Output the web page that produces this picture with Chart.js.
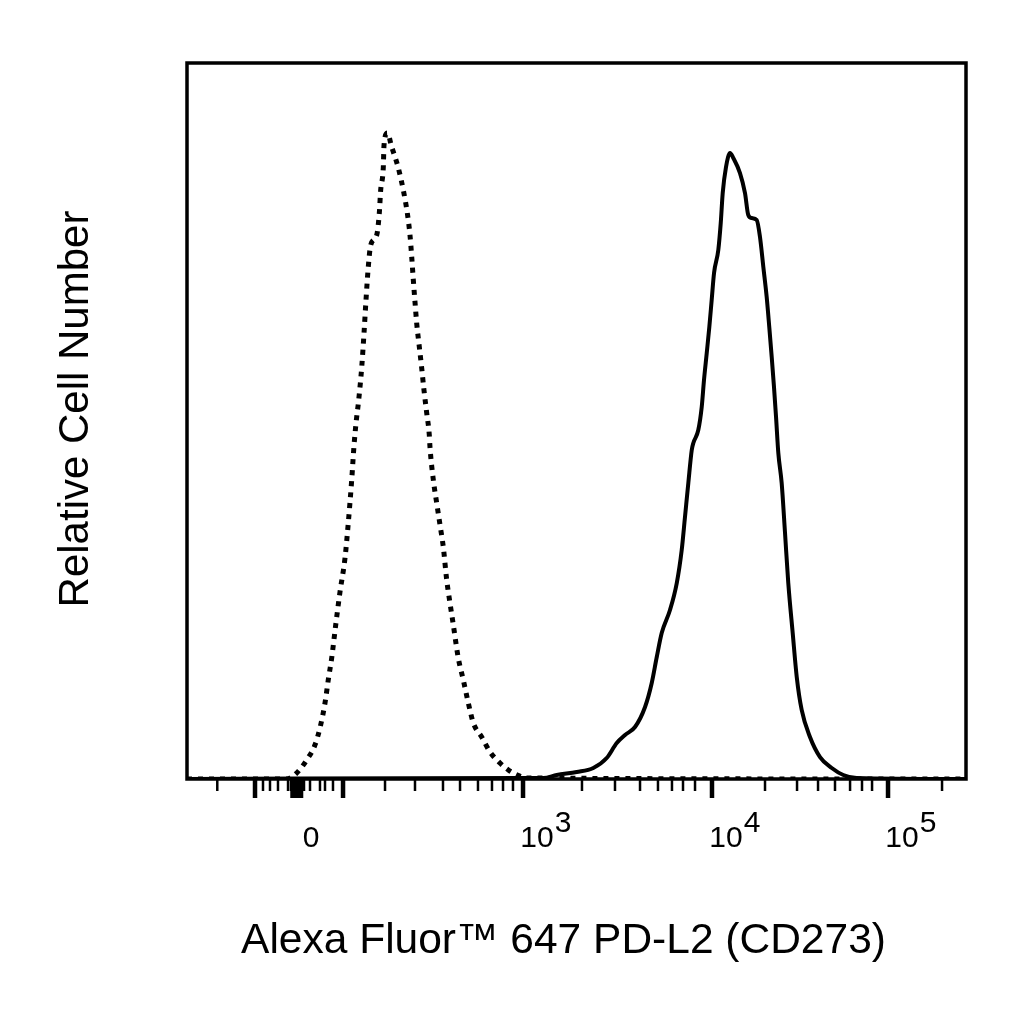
<!DOCTYPE html>
<html>
<head>
<meta charset="utf-8">
<script src="https://cdn.jsdelivr.net/npm/chart.js@4.4.1/dist/chart.umd.min.js"></script>
<style>
  html, body { margin: 0; padding: 0; background: #fff; }
  #wrap { width: 1024px; height: 1024px; }
</style>
</head>
<body>
<div id="wrap"><canvas id="histo" width="1024" height="1024"></canvas></div>
<script>
// x = display channel (0..1024 across the biexponential axis), y = % of max count

// isotype control (dotted)
const isoChannel = [0, 131.1, 144.2, 157.3, 168.2, 175.7, 181.4, 185.7, 190.2, 195.8, 201.1, 207.7, 212.0, 216.5,
  219.5, 222.2, 225.7, 229.7, 232.7, 235.3, 238.3, 241.5, 249.4, 252.8, 254.6, 258.0, 259.0, 263.3, 269.1,
  277.8, 284.3, 289.6, 293.1, 295.4, 297.5, 299.7, 301.9, 305.4, 308.5, 311.5, 315.1, 318.5, 319.4, 323.8,
  328.2, 332.6, 336.9, 341.4, 345.7, 350.1, 356.6, 363.2, 369.8, 376.4, 387.4, 398.4, 411.4, 422.4, 434.2,
  446.5, 1024];
const isoCount = [0, 0, 0.84, 2.65, 4.75, 7.54, 10.61, 13.83, 16.90, 21.79, 26.12, 30.86, 35.75, 41.76,
  46.51, 49.72, 52.93, 57.54, 62.29, 66.90, 71.51, 74.58, 75.98, 79.05, 82.26, 85.33, 88.54, 90.22, 88.27,
  85.33, 82.26, 79.05, 75.98, 72.90, 69.69, 66.62, 63.69, 60.33, 57.40, 54.33, 51.12, 48.04, 46.37, 41.76,
  38.55, 35.47, 32.40, 27.79, 24.58, 21.51, 16.90, 13.83, 10.61, 7.82, 5.87, 3.77, 2.23, 1.26, 0.56,
  0.14, 0];

// anti-PD-L2 stained (solid)
const pdl2Channel = [0, 441.7, 468.4, 486.0, 512.3, 534.1, 551.7, 564.9, 575.8, 588.9, 602.1, 610.9, 617.5,
  624.0, 634.9, 643.8, 650.3, 654.6, 659.0, 663.5, 665.6, 672.1, 676.6, 679.6, 683.2, 686.6, 689.7, 692.8,
  698.4, 701.6, 704.2, 708.5, 713.8, 718.1, 726.9, 733.5, 737.8, 742.3, 748.9, 753.2, 757.6, 762.0, 765.4,
  768.6, 771.6, 774.3, 777.3, 781.7, 786.1, 790.4, 796.2, 801.5, 808.0, 818.9, 832.1, 847.5, 862.7, 880.3, 1024];
const pdl2Count = [0, 0.14, 0.14, 0.56, 0.98, 1.54, 2.93, 5.03, 6.15, 7.26, 10.06, 13.41, 17.04,
  20.39, 23.60, 27.37, 31.98, 36.59, 41.34, 45.95, 46.93, 48.74, 51.95, 55.72, 59.49, 63.13, 66.90, 70.67,
  73.88, 77.65, 81.84, 85.47, 87.43, 86.73, 84.63, 81.84, 78.77, 78.35, 78.07, 75.70, 71.51, 67.32, 63.13,
  58.94, 54.75, 50.56, 45.53, 41.34, 34.36, 27.37, 20.39, 14.25, 9.64, 5.87, 3.07, 1.54, 0.56, 0.14, 0];

// axis ticks in channel units
const majorTicks = [89.4, 138.7, 141.3, 144.6, 147.2, 149.9, 205.1, 441.7, 690.1, 921.5];
const minorTicks = [39.8, 99.9, 109.1, 119.6, 132.8, 136.7, 153.8, 161.7, 174.8, 181.4, 191.9,
  260.3, 299.7, 336.5, 358.9, 382.5, 400.9, 415.4, 428.5,
  519.2, 562.6, 595.5, 619.1, 637.5, 652.0, 667.8,
  759.8, 801.9, 829.5, 851.8, 871.6, 887.3, 900.5, 992.5];
const labelTicks = [144.6, 441.7, 690.1, 921.5];
const labelBase = ['0', '10', '10', '10'];
const labelSup = ['', '3', '4', '5'];

const xTitle = 'Alexa Fluor\u2122 647 PD-L2 (CD273)';
const yTitle = 'Relative Cell Number';

function toPoints(xs, ys) {
  return xs.map((v, i) => ({ x: v, y: ys[i] }));
}

const FONT = '"Liberation Sans", Arial, Helvetica, sans-serif';

const axisDecor = {
  id: 'axisDecor',
  afterDraw(chart) {
    const { ctx, chartArea: a } = chart;
    const x = chart.scales.x;
    ctx.save();
    ctx.strokeStyle = '#000';
    ctx.fillStyle = '#000';

    ctx.lineWidth = 3.5;
    ctx.strokeRect(a.left, a.top, a.right - a.left, a.bottom - a.top);

    ctx.lineWidth = 2.5;
    minorTicks.forEach(v => {
      const px = x.getPixelForValue(v);
      ctx.beginPath();
      ctx.moveTo(px, a.bottom);
      ctx.lineTo(px, a.bottom + 12);
      ctx.stroke();
    });
    ctx.lineWidth = 4.5;
    majorTicks.forEach(v => {
      const px = x.getPixelForValue(v);
      ctx.beginPath();
      ctx.moveTo(px, a.bottom);
      ctx.lineTo(px, a.bottom + 19);
      ctx.stroke();
    });

    ctx.font = '30px ' + FONT;
    ctx.textBaseline = 'alphabetic';
    labelTicks.forEach((v, i) => {
      const px = x.getPixelForValue(v) + 14;
      ctx.textAlign = 'center';
      ctx.fillText(labelBase[i], px, a.bottom + 68);
      if (labelSup[i]) {
        const w = ctx.measureText(labelBase[i]).width;
        ctx.textAlign = 'left';
        ctx.fillText(labelSup[i], px + w / 2 + 1, a.bottom + 53);
      }
    });

    ctx.font = '42.5px ' + FONT;
    ctx.textAlign = 'center';
    ctx.fillText(xTitle, (a.left + a.right) / 2 - 13, a.bottom + 174);

    ctx.font = '42px ' + FONT;
    ctx.translate(a.left - 99, (a.top + a.bottom) / 2 - 12);
    ctx.rotate(-Math.PI / 2);
    ctx.fillText(yTitle, 0, 0);
    ctx.restore();
  }
};

const ctx = document.getElementById('histo').getContext('2d');
const histo = new Chart(ctx, {
  type: 'line',
  data: {
    datasets: [{
      label: 'Isotype control',
      data: toPoints(isoChannel, isoCount),
      borderColor: '#000',
      borderWidth: 5,
      borderDash: [5, 6],
      borderCapStyle: 'butt',
      pointRadius: 0,
      cubicInterpolationMode: 'monotone',
      fill: false
    }, {
      label: 'PD-L2',
      data: toPoints(pdl2Channel, pdl2Count),
      borderColor: '#000',
      borderWidth: 4,
      pointRadius: 0,
      cubicInterpolationMode: 'monotone',
      fill: false
    }]
  },
  options: {
    responsive: false,
    devicePixelRatio: 1,
    animation: false,
    layout: { padding: { left: 187, top: 63, right: 58, bottom: 245 } },
    scales: {
      x: { type: 'linear', min: 0, max: 1024, display: false },
      y: { type: 'linear', min: 0, max: 100, display: false }
    },
    plugins: {
      legend: { display: false },
      tooltip: { enabled: false }
    }
  },
  plugins: [axisDecor]
});
</script>
</body>
</html>
